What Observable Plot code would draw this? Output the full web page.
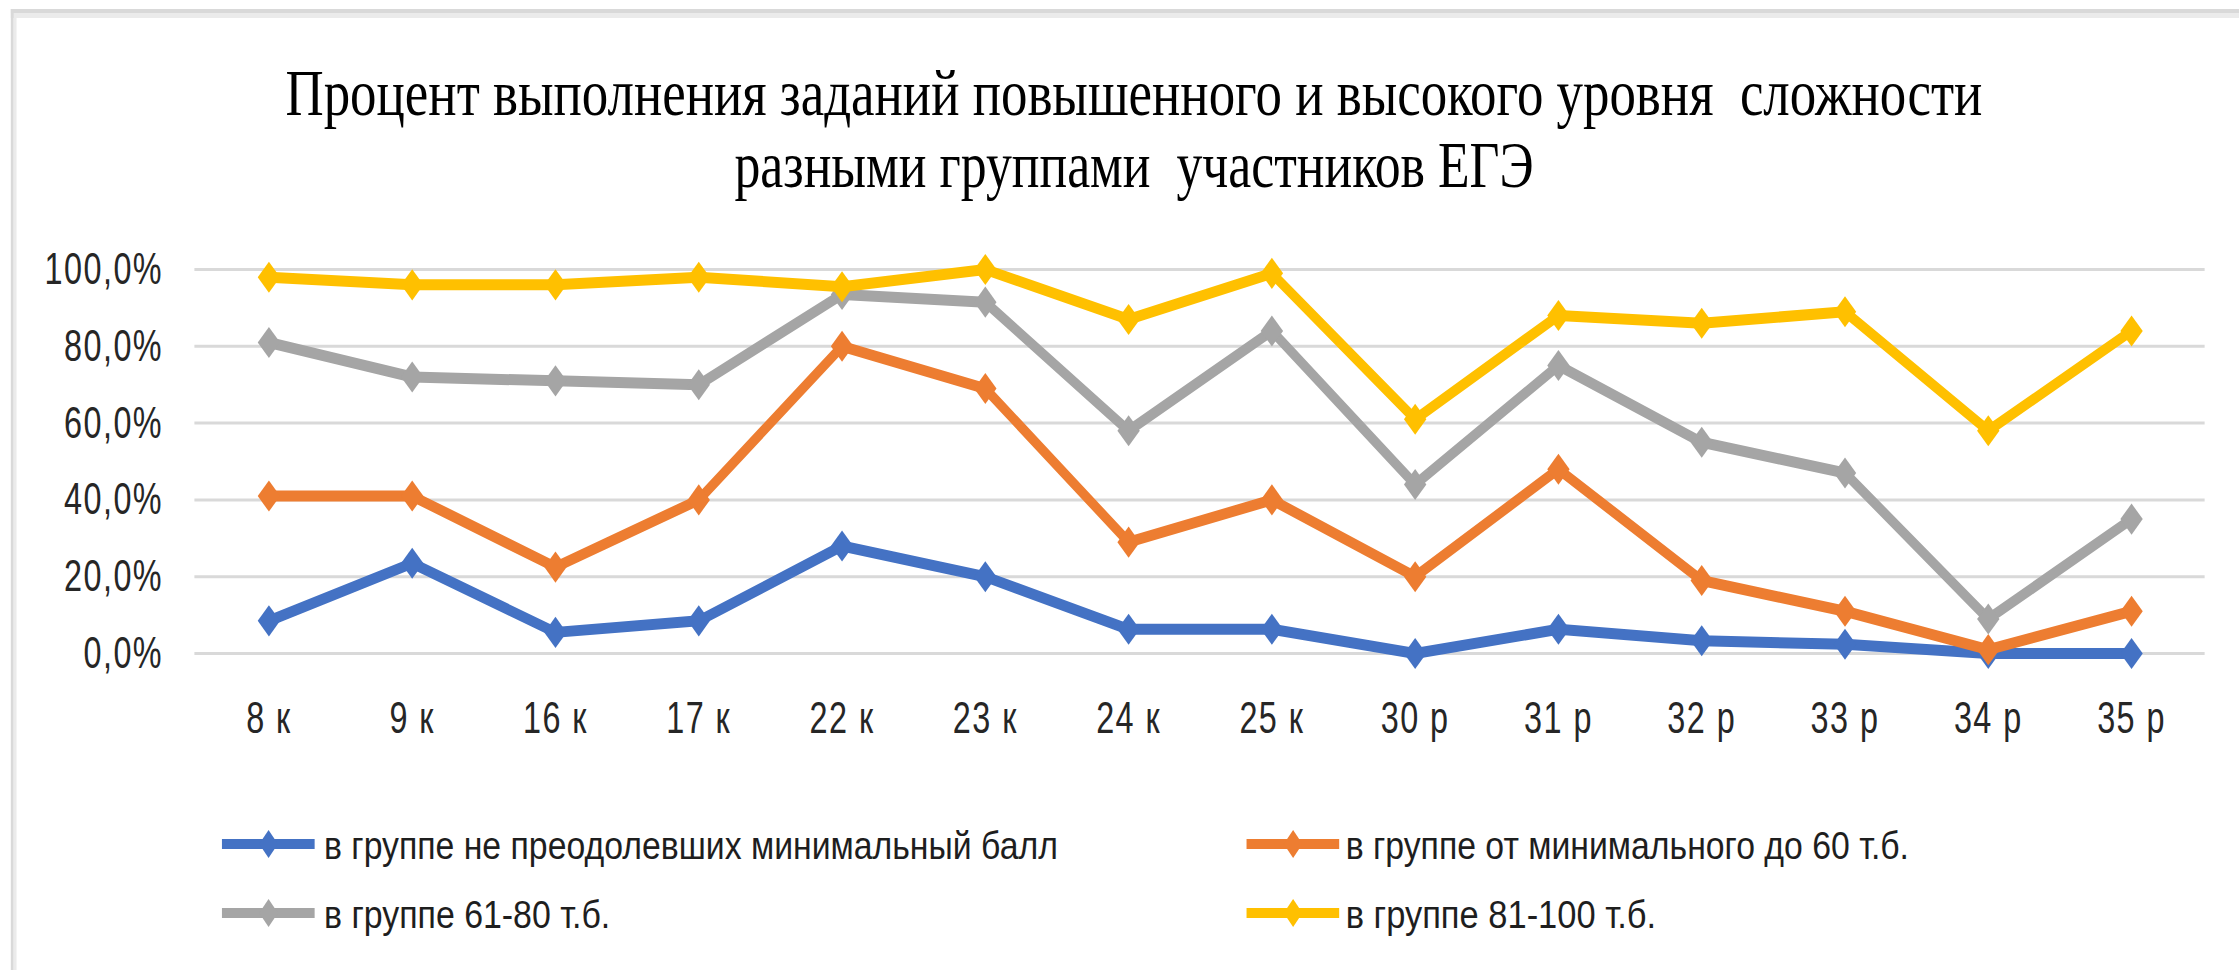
<!DOCTYPE html>
<html><head><meta charset="utf-8">
<script src="https://cdn.jsdelivr.net/npm/d3@7"></script>
<script src="https://cdn.jsdelivr.net/npm/@observablehq/plot@0.6"></script>
<style>
html,body{margin:0;padding:0;background:#fff;overflow:hidden;width:2239px;height:970px}
#wrap{position:absolute;left:0;top:0;width:3110px;height:970px;transform:scaleX(0.72);transform-origin:0 0}
.band{position:absolute}
.title{position:absolute;left:0;width:3150px;text-align:center;font-family:"Liberation Serif",serif;font-size:65px;line-height:72px;white-space:pre;color:#000}
.title span{display:inline-block;transform-origin:50% 50%}
#chart{position:absolute;left:0;top:230px}
.lg{position:absolute;font-family:"Liberation Sans",sans-serif;font-size:39px;line-height:44px;white-space:pre;color:#1e1e1e}
.lg span{display:inline-block;transform-origin:0 50%}
.sw{position:absolute}
</style></head>
<body>
<div id="wrap">
  <div class="band" style="left:15px;top:9px;width:3095px;height:4px;background:#d9d9d9"></div>
  <div class="band" style="left:15px;top:13px;width:3095px;height:5px;background:#ebebeb"></div>
  <div class="band" style="left:15px;top:9px;width:4px;height:961px;background:#d9d9d9"></div>
  <div class="band" style="left:19px;top:18px;width:4px;height:952px;background:#ebebeb"></div>
  <div class="title" id="t1" style="top:57px"></div>
  <div class="title" id="t2" style="top:129px"></div>
  <div id="chart"></div>
  <div id="legend"></div>
</div>
<script>
const titleLines = ["Процент выполнения заданий повышенного и высокого уровня  сложности", "разными группами  участников ЕГЭ"];
const categories = ["8 к","9 к","16 к","17 к","22 к","23 к","24 к","25 к","30 р","31 р","32 р","33 р","34 р","35 р"];
const seriesNames = ["в группе не преодолевших минимальный балл", "в группе от минимального до 60 т.б.", "в группе 61-80 т.б.", "в группе 81-100 т.б."];
const belowMin = [8.5, 23.5, 5.5, 8.5, 28, 20, 6.3, 6.3, 0, 6.3, 3.3, 2.4, 0, 0];
const minTo60 = [41, 41, 22.5, 40, 80, 69, 29, 40, 20, 48, 19, 11, 1, 11];
const from61to80 = [81, 72, 71, 70, 93.5, 91.5, 58, 84, 44, 75, 55, 47, 9, 35];
const from81to100 = [98, 96, 96, 98, 95.5, 100, 87, 99, 61, 88, 86, 89, 58, 84];
const yTicks = [0, 20, 40, 60, 80, 100];
const colors = ["#4472c4", "#ed7d31", "#a5a5a5", "#ffc000"];

const seriesValues = [belowMin, minTo60, from61to80, from81to100];
const fmt = v => v.toFixed(1).replace(".", ",") + "%";

// fit helper: stretch horizontally to reach a target layout width
function fit(span, target) {
  const w = span.offsetWidth;
  span.style.transform = `scaleX(${target / w})`;
}

// title
const t1 = document.createElement("span"); t1.textContent = titleLines[0];
document.getElementById("t1").appendChild(t1);
const t2 = document.createElement("span"); t2.textContent = titleLines[1];
document.getElementById("t2").appendChild(t2);
fit(t1, 2357); fit(t2, 1110);

// chart
const marks = [
  Plot.gridY(yTicks, {stroke: "#d9d9d9", strokeWidth: 3, strokeOpacity: 1}),
  Plot.axisY({ticks: yTicks, tickSize: 0, tickPadding: 44, tickFormat: fmt, fontSize: 45}),
  Plot.axisX({tickSize: 0, tickPadding: 48, fontSize: 45})
];
seriesValues.forEach((vals, i) => {
  const rows = categories.map((c, j) => ({cat: c, value: vals[j], series: seriesNames[i]}));
  marks.push(Plot.line(rows, {x: "cat", y: "value", stroke: colors[i], strokeWidth: 11, strokeLinejoin: "round", strokeLinecap: "round"}));
  marks.push(Plot.dot(rows, {x: "cat", y: "value", symbol: "diamond2", r: 14, fill: colors[i], stroke: "none"}));
});
const plot = Plot.plot({
  width: 3110,
  height: 530,
  marginLeft: 270,
  marginRight: 48,
  marginTop: 39,
  marginBottom: 107,
  style: {fontFamily: "Liberation Sans, sans-serif", fontSize: "45px", letterSpacing: "2px", color: "#262626", background: "transparent", overflow: "visible"},
  x: {type: "point", domain: categories, padding: 0.5, label: null},
  y: {domain: [0, 100], label: null},
  marks
});
document.getElementById("chart").appendChild(plot);

// legend
const lgPos = [
  {sx: 308, tx: 450, cy: 844, top: 823.5, w: 1019},
  {sx: 1731, tx: 1869, cy: 844, top: 823.5, w: 783},
  {sx: 308, tx: 450, cy: 913, top: 892.5, w: 397},
  {sx: 1731, tx: 1869, cy: 913, top: 892.5, w: 431}
];
const legend = document.getElementById("legend");
seriesNames.forEach((name, i) => {
  const p = lgPos[i];
  const sw = document.createElementNS("http://www.w3.org/2000/svg", "svg");
  sw.setAttribute("class", "sw");
  sw.setAttribute("width", 130); sw.setAttribute("height", 40);
  sw.style.left = p.sx + "px"; sw.style.top = (p.cy - 20) + "px";
  sw.innerHTML = `<line x1="0" y1="20" x2="129" y2="20" stroke="${colors[i]}" stroke-width="10"/>` +
    `<polygon points="65,6 78,20 65,34 52,20" fill="${colors[i]}"/>`;
  legend.appendChild(sw);
  const d = document.createElement("div");
  d.className = "lg";
  d.style.left = p.tx + "px"; d.style.top = p.top + "px";
  const s = document.createElement("span"); s.textContent = name;
  d.appendChild(s);
  legend.appendChild(d);
  fit(s, p.w);
});
</script>
</body></html>
